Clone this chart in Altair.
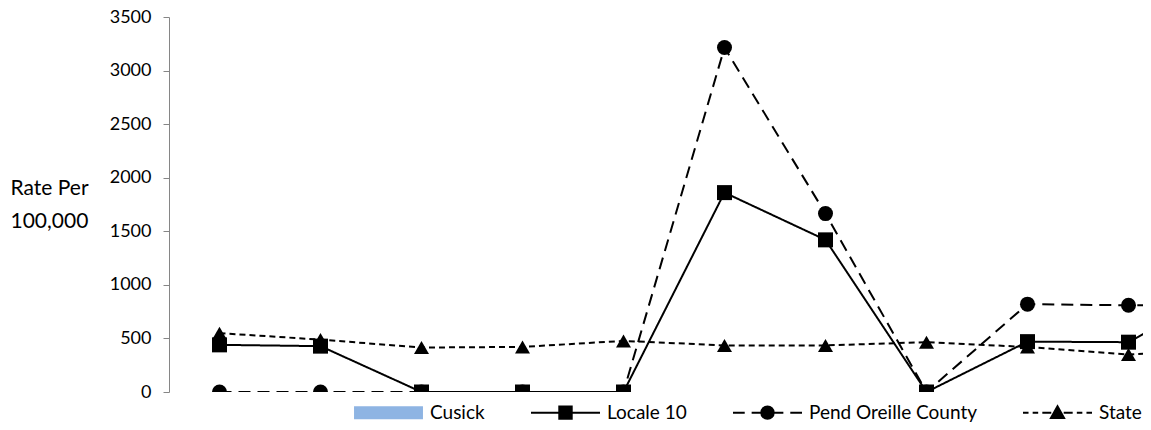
import altair as alt
import pandas as pd

# ---- data ----
periods = list(range(1, 12))
series_names = ["Cusick", "Locale 10", "Pend Oreille County", "State"]
locale10 = [440, 428, 0, 0, 0, 1861, 1420, 0, 470, 465, 980]
pend_oreille = [0, 0, 0, 0, 0, 3215, 1665, 0, 820, 809, 812]
state = [549, 489, 415, 421, 477, 435, 435, 465, 420, 350, 400]
y_ticks = [0, 500, 1000, 1500, 2000, 2500, 3000, 3500]

rows = []
for name, vals in [("Locale 10", locale10), ("Pend Oreille County", pend_oreille), ("State", state)]:
    for p, v in zip(periods, vals):
        rows.append({"period": p, "value": v, "series": name})
df = pd.DataFrame(rows)

FONT = "Lato"
line_series = ["Locale 10", "Pend Oreille County", "State"]
marker_shapes = {"Locale 10": "square", "Pend Oreille County": "circle", "State": "triangle-up"}

# legend symbol paths (unit box -1..1)
p_cusick = "M-0.97,-0.16H0.97V0.16H-0.97Z"
p_locale = "M-1,0H1M-0.18,-0.18H0.18V0.18H-0.18Z"
p_pend = ("M-1,0H-0.66M-0.46,0H-0.12M0.12,0H0.46M0.66,0H1"
          "M-0.18,0A0.18,0.18 0 1,0 0.18,0A0.18,0.18 0 1,0 -0.18,0Z")
p_state = ("M-1,0H-0.84M-0.72,0H-0.56M-0.44,0H-0.18M0.18,0H0.44M0.56,0H0.72M0.84,0H1"
           "M0,-0.19L0.19,0.15L-0.19,0.15Z")

x_enc = alt.X("period:Q", scale=alt.Scale(domain=[0.5, 10.1436], nice=False, zero=False), axis=None)
y_enc = alt.Y(
    "value:Q",
    scale=alt.Scale(domain=[0, 3500], nice=False),
    axis=alt.Axis(
        values=y_ticks,
        format="d",
        title=["Rate Per", "100,000"],
        titleAngle=0,
        titleAlign="left",
        titleBaseline="alphabetic",
        titleX=-159,
        titleY=177,
        titleLineHeight=33,
        grid=False,
        tickSize=6,
        labelPadding=12,
    ),
)

base = alt.Chart(df)

lines = base.mark_line(clip=True, color="black", strokeWidth=2).encode(
    x=x_enc,
    y=y_enc,
    detail="series:N",
    strokeDash=alt.StrokeDash(
        "series:N",
        scale=alt.Scale(domain=line_series, range=[[1, 0], [12, 7], [6, 4]]),
        legend=None,
    ),
)

point_layers = [
    base.transform_filter(alt.datum.series == name)
    .mark_point(clip=True, filled=True, color="black", size=225, opacity=1, shape=marker_shapes[name])
    .encode(x=x_enc, y=y_enc)
    for name in line_series
]

leg = alt.Legend(
    orient="none",
    legendX=184,
    legendY=360,
    direction="horizontal",
    title=None,
    labelFont=FONT,
    labelFontSize=19,
    labelColor="black",
    labelOffset=6,
    labelLimit=0,
    columnPadding=42,
    symbolSize=4761,
    symbolStrokeWidth=2,
    padding=0,
)

legend_layer = base.mark_point(filled=True, size=4761, strokeWidth=2, opacity=1).encode(
    x=x_enc,
    y=y_enc,
    fill=alt.Fill("legend_series:N", scale=alt.Scale(domain=series_names, range=["#8EB4E3", "black", "black", "black"]), legend=leg),
    stroke=alt.Stroke("legend_series:N", scale=alt.Scale(domain=series_names, range=["#8EB4E3", "black", "black", "black"]), legend=leg),
    shape=alt.Shape("legend_series:N", scale=alt.Scale(domain=series_names, range=[p_cusick, p_locale, p_pend, p_state]), legend=leg),
).transform_calculate(legend_series="datum.series").transform_filter("false")

chart = (
    alt.layer(lines, *point_layers, legend_layer)
    .properties(
        width=974,
        height=375,
        autosize=alt.AutoSizeParams(type="none"),
        padding={"left": 161, "top": 9, "right": 0, "bottom": 30},
    )
    .configure_view(stroke=None)
    .configure_axis(
        domainColor="#868686",
        tickColor="#868686",
        labelFont=FONT,
        labelFontSize=18,
        labelColor="black",
        titleFont=FONT,
        titleFontSize=21,
        titleFontWeight="normal",
        titleColor="black",
    )
)

chart.save("out.html", embed_options={"renderer": "svg", "actions": False})
